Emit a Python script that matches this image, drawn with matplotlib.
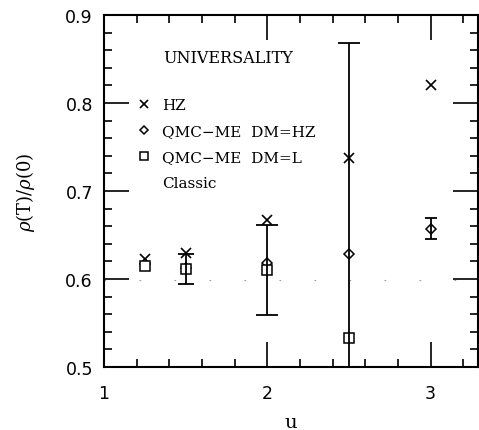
import matplotlib.pyplot as plt
from matplotlib.ticker import MultipleLocator
from matplotlib.lines import Line2D

# rho(T)/rho(0) versus u for the three approaches
u_hz = [1.25, 1.5, 2.0, 2.5, 3.0]
ratio_hz = [0.623, 0.629, 0.667, 0.738, 0.821]

u_dm_hz = [1.25, 1.5, 2.0, 2.5, 3.0]
ratio_dm_hz = [0.617, 0.613, 0.618, 0.628, 0.657]
err_dm_hz = [0.0, 0.0, 0.0, 0.240, 0.012]

u_dm_l = [1.25, 1.5, 2.0, 2.5]
ratio_dm_l = [0.615, 0.611, 0.610, 0.533]
err_dm_l = [0.0, 0.017, 0.051, 0.0]

u_classic = [1.0, 3.3]
ratio_classic = [0.599, 0.599]

plt.rcParams["mathtext.fontset"] = "dejavuserif"

fig = plt.figure(figsize=(4.79, 4.31), dpi=100)
ax = fig.add_axes([0.2171, 0.1462, 0.7808, 0.8167])

ax.plot(u_classic, ratio_classic, color="0.6", lw=0.8, dashes=(1.5, 30))

ax.plot(u_hz, ratio_hz, "x", color="k", ms=7, mew=1.2, ls="none")
ax.plot(u_dm_hz, ratio_dm_hz, "D", mfc="white", mec="k", ms=5, mew=1.1, ls="none")
ax.plot(u_dm_l, ratio_dm_l, "s", mfc="white", mec="k", ms=6.5, mew=1.1, ls="none")

# error bars, cap width grows with the bar
for x, y, e in zip(u_dm_hz, ratio_dm_hz, err_dm_hz):
    if e > 0:
        cap = 8 if e > 0.05 else 4
        ax.errorbar(x, y, yerr=e, fmt="none", ecolor="k", elinewidth=1.3,
                    capsize=cap, capthick=1.3)
for x, y, e in zip(u_dm_l, ratio_dm_l, err_dm_l):
    if e > 0:
        cap = 8 if e > 0.03 else 6
        ax.errorbar(x, y, yerr=e, fmt="none", ecolor="k", elinewidth=1.3,
                    capsize=cap, capthick=1.3)

ax.set_xlim(1.0, 3.29)
ax.set_ylim(0.5, 0.9)
ax.xaxis.set_major_locator(MultipleLocator(1))
ax.xaxis.set_minor_locator(MultipleLocator(0.2))
ax.yaxis.set_major_locator(MultipleLocator(0.1))
ax.yaxis.set_minor_locator(MultipleLocator(0.02))
ax.set_yticks([0.5, 0.6, 0.7, 0.8, 0.9])
ax.set_yticklabels(["0.5", "0.6", "0.7", "0.8", "0.9"])

ax.tick_params(which="both", direction="in", top=True, right=True, width=1.2,
               labelsize=12.5)
ax.tick_params(which="major", length=18)
ax.tick_params(which="minor", length=6)
ax.tick_params(axis="x", which="major", pad=12)
ax.tick_params(axis="y", which="major", pad=8)
for sp in ax.spines.values():
    sp.set_linewidth(1.5)

ax.set_xlabel("u", family="DejaVu Serif", fontsize=14, labelpad=8)
ax.set_ylabel(r"$\rho$(T)/$\rho$(0)", family="DejaVu Serif", fontsize=13, labelpad=20)

ax.text(0.158, 0.879, "UNIVERSALITY", transform=ax.transAxes,
        family="DejaVu Serif", fontsize=11.5, va="center")

handles = [
    Line2D([], [], marker="x", color="k", ms=6, mew=1.2, ls="none"),
    Line2D([], [], marker="D", mfc="white", mec="k", ms=4.5, mew=1.1, ls="none"),
    Line2D([], [], marker="s", mfc="white", mec="k", ms=5.5, mew=1.1, ls="none"),
    Line2D([], [], color="white", lw=0.8),
]
labels = ["HZ", "QMC\u2212ME  DM=HZ", "QMC\u2212ME  DM=L", "Classic"]
ax.legend(handles, labels, loc="upper left", bbox_to_anchor=(0.07, 0.781),
          frameon=False, handlelength=1.0, handletextpad=0.7, labelspacing=0.78,
          prop={"family": "DejaVu Serif", "size": 11}, borderaxespad=0)

fig.savefig("out.png", dpi=100)
